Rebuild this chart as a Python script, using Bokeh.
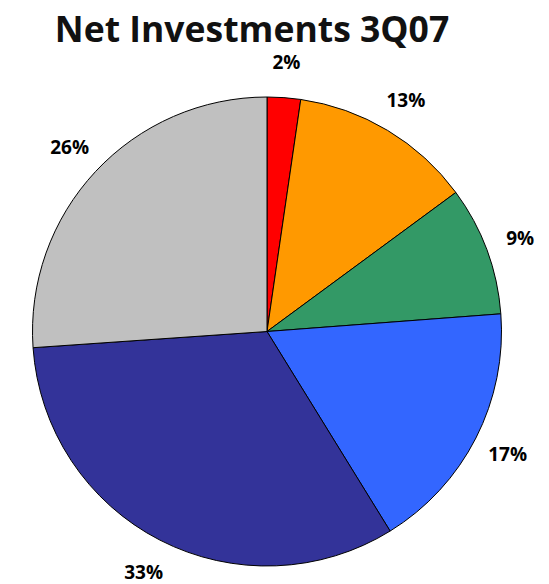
import math
from bokeh.plotting import figure
from bokeh.models import Range1d, ColumnDataSource
from bokeh.core.properties import value
from bokeh.embed import file_html
from bokeh.resources import INLINE

title_text = "Net Investments 3Q07"
shares = [2.3, 12.6, 8.9, 17.4, 32.7, 26.1]
labels = ["2%", "13%", "9%", "17%", "33%", "26%"]
colors = ["#FF0000", "#FF9900", "#339966", "#3366FF", "#333399", "#C0C0C0"]

W, H = 549, 584
cx, cy, r = 266.5, 253.0, 234.5
label_r = 270.0

total = sum(shares)
starts, ends, mids = [], [], []
cum = 0.0
for s in shares:
    a0 = math.pi / 2 - 2 * math.pi * cum / total
    cum += s
    a1 = math.pi / 2 - 2 * math.pi * cum / total
    starts.append(a1)
    ends.append(a0)
    mids.append((a0 + a1) / 2)

src = ColumnDataSource(dict(
    start=starts, end=ends, color=colors, label=labels,
    lx=[cx + label_r * math.cos(m) for m in mids],
    ly=[cy + label_r * math.sin(m) for m in mids],
))

p = figure(width=W, height=H, output_backend="svg", toolbar_location=None,
           x_range=Range1d(0, W), y_range=Range1d(0, H), min_border=0)
p.axis.visible = False
p.grid.visible = False
p.outline_line_color = None

p.wedge(x=cx, y=cy, radius=r, start_angle="start", end_angle="end",
        fill_color="color", line_color="black", line_width=1, source=src)

p.text(x="lx", y="ly", text="label", source=src, text_align="center",
       text_baseline="middle", text_font=value("Open Sans"), text_font_style="bold",
       text_font_size="19px", text_color="black")

p.text(x=[251.5], y=[H - 27.5], text=[title_text], text_align="center",
       text_baseline="middle", text_font=value("Open Sans"), text_font_style="bold",
       text_font_size="35.5px", text_color="#111111")

open("out.html", "w").write(file_html(p, INLINE))
